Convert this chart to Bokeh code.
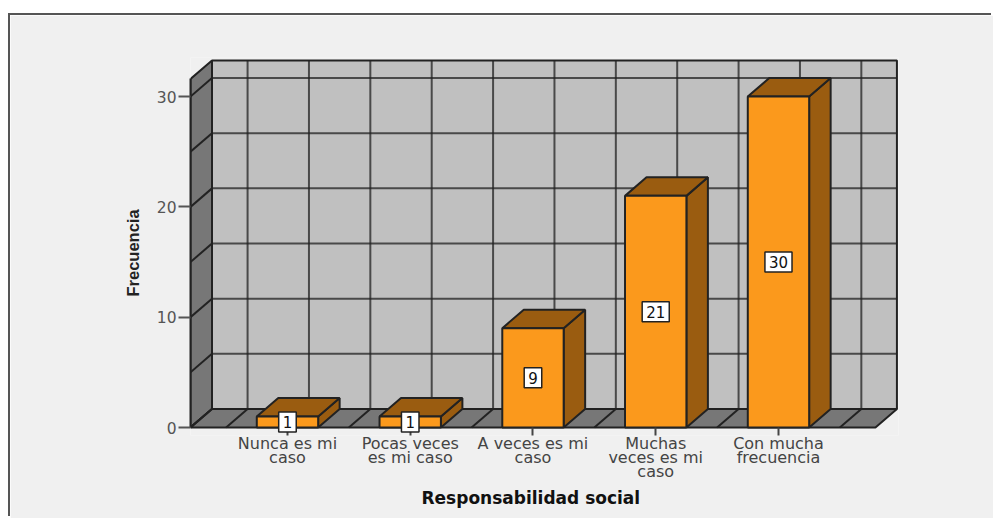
from bokeh.plotting import figure
from bokeh.models import FixedTicker, Label, Title
from bokeh.embed import file_html
from bokeh.resources import INLINE

categories = ["Nunca es mi\ncaso", "Pocas veces\nes mi caso", "A veces es mi\ncaso",
              "Muchas\nveces es mi\ncaso", "Con mucha\nfrecuencia"]
values = [1, 1, 9, 21, 30]
y_ticks = [0, 10, 20, 30]
y_grid = [0, 5, 10, 15, 20, 25, 30]
x_grid = [-0.5, 0, 0.5, 1, 1.5, 2, 2.5, 3, 3.5, 4, 4.5]
x_title = "Responsabilidad social"
y_title = "Frecuencia"

X_LO, X_HI = -0.79, 4.79
Y_TOP = 31.6
DX, DY = 0.175, 1.68
HALF = 0.25

BG = "#f0f0f0"
WALL = "#c0c0c0"
SIDE = "#777777"
LINE = "#222222"
ORANGE = "#fb991c"
BROWN = "#9a5c10"
LW = 2

# frame reaches a little below the zero line so the value boxes of the short bars are not cut
BELOW = 8
p = figure(frame_width=708, frame_height=370 + BELOW,
           x_range=(X_LO, X_LO + 708 / 122.75), y_range=(-BELOW / 11.03, 370 / 11.03),
           min_border_left=180, min_border_right=95, min_border_top=42, min_border_bottom=91 - BELOW,
           output_backend="svg", toolbar_location=None, tools="",
           background_fill_color=BG, border_fill_color=BG, outline_line_color=None,
           margin=(15, 0, 0, 10), styles={"box-shadow": "-2px -2px 0 0 #555555"})
p.grid.visible = False

# walls and floor
p.patch([X_LO + DX, X_HI + DX, X_HI + DX, X_LO + DX], [DY, DY, Y_TOP + DY, Y_TOP + DY],
        fill_color=WALL, line_color=LINE, line_width=LW)
p.patch([X_LO, X_LO + DX, X_LO + DX, X_LO], [0, DY, Y_TOP + DY, Y_TOP],
        fill_color=SIDE, line_color=LINE, line_width=LW)
p.patch([X_LO, X_HI, X_HI + DX, X_LO + DX], [0, 0, DY, DY],
        fill_color=SIDE, line_color=LINE, line_width=LW)

# back wall grid, side wall and floor lines
p.multi_line([[X_LO + DX, X_HI + DX] for v in y_grid], [[v + DY, v + DY] for v in y_grid],
             line_color=LINE, line_width=LW, line_alpha=0.75)
p.multi_line([[X_LO, X_LO + DX] for v in y_grid], [[v, v + DY] for v in y_grid],
             line_color=LINE, line_width=LW)
p.multi_line([[g + DX, g + DX] for g in x_grid], [[DY, Y_TOP + DY] for g in x_grid],
             line_color=LINE, line_width=LW, line_alpha=0.75)
p.multi_line([[g, g + DX] for g in x_grid], [[0, DY] for g in x_grid],
             line_color=LINE, line_width=LW)

# 3D bars
for i, v in enumerate(values):
    l, r = i - HALF, i + HALF
    p.patch([r, r + DX, r + DX, r], [0, DY, v + DY, v], fill_color=BROWN, line_color=LINE, line_width=LW)
    p.patch([l, r, r + DX, l + DX], [v, v, v + DY, v + DY], fill_color=BROWN, line_color=LINE, line_width=LW)
    p.patch([l, r, r, l], [0, 0, v, v], fill_color=ORANGE, line_color=LINE, line_width=LW)

# axes
xa = p.xaxis[0]
xa.ticker = FixedTicker(ticks=list(range(len(values))))
xa.major_label_overrides = {i: c for i, c in enumerate(categories)}
xa.major_label_text_font = "DejaVu Sans"
xa.major_label_text_font_size = "16px"
xa.major_label_text_line_height = 0.75
xa.major_label_text_color = "#444444"
xa.major_label_standoff = -2
xa.major_tick_in = BELOW
xa.major_tick_out = 0
xa.minor_tick_line_color = None
xa.major_tick_line_color = "#444444"
xa.major_tick_line_width = 2
xa.axis_line_color = None

ya = p.yaxis[0]
ya.ticker = FixedTicker(ticks=y_ticks)
ya.bounds = (0, Y_TOP)
ya.major_label_text_font = "DejaVu Sans"
ya.major_label_text_font_size = "15.5px"
ya.major_label_text_color = "#555555"
ya.major_label_standoff = 2
ya.major_tick_in = 0
ya.major_tick_out = 12
ya.minor_tick_line_color = None
ya.major_tick_line_color = "#555555"
ya.major_tick_line_width = 2
ya.axis_line_color = LINE
ya.axis_line_width = 2

# axis titles, placed off-centre as in the reference
p.add_layout(Title(text=x_title, align="left", offset=231, standoff=3, text_font="DejaVu Sans",
                   text_font_style="bold", text_font_size="17px", text_color="#111111"), "below")
p.add_layout(Title(text=y_title, align="left", offset=139, standoff=24, text_font="Liberation Sans",
                   text_font_style="bold", text_font_size="16.5px", text_color="#222222"), "left")

# value boxes
for i, v in enumerate(values):
    p.add_layout(Label(x=i, y=v / 2, text=str(v), text_align="center", text_baseline="middle",
                       text_font="DejaVu Sans", text_font_size="15px", text_color="#111111",
                       background_fill_color="white", border_line_color="#222222", border_line_width=1.5,
                       padding=4))

open("out.html", "w").write(file_html(p, INLINE))
